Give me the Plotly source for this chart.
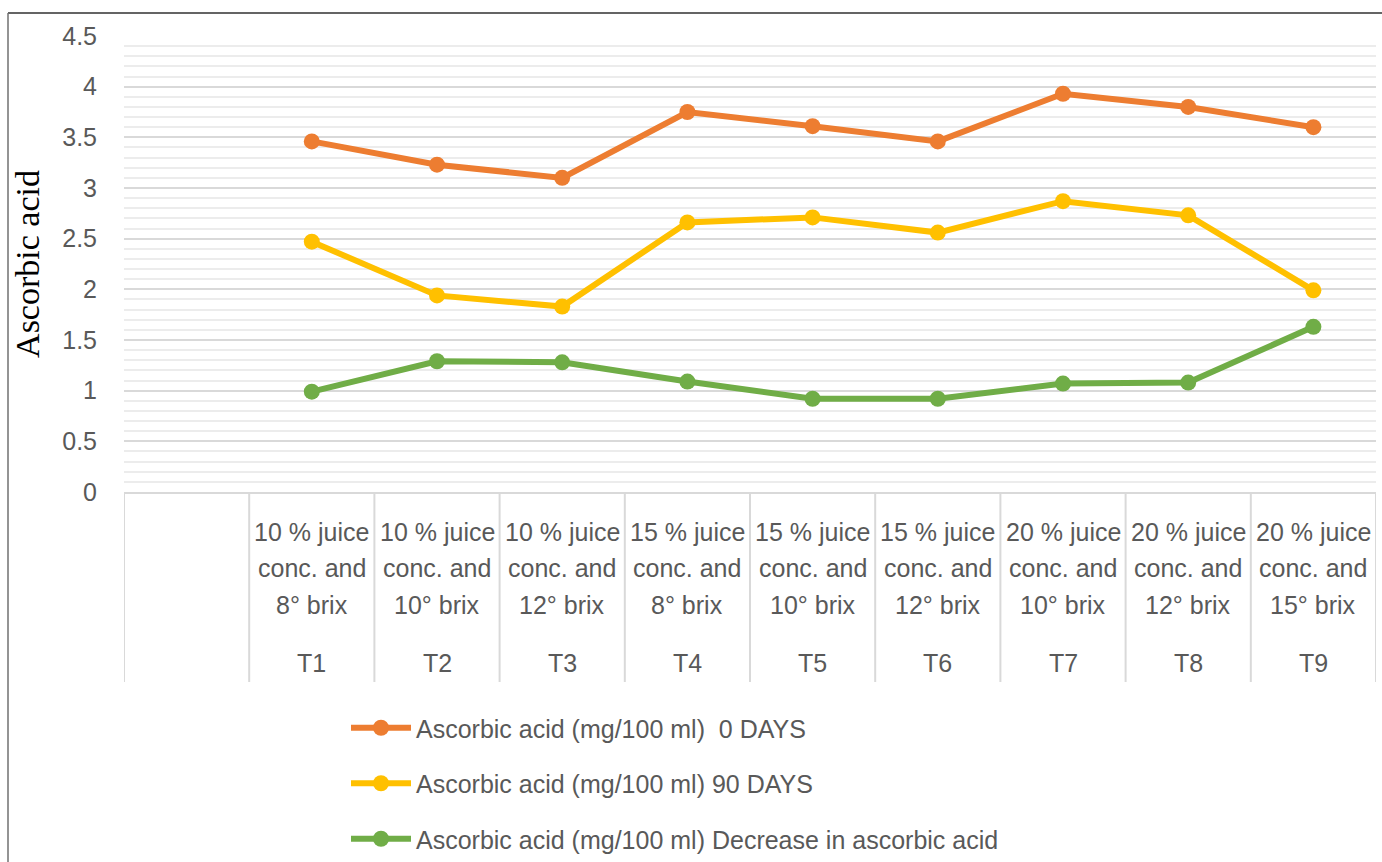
import plotly.graph_objects as go

# ---- data ----
categories = ["T1", "T2", "T3", "T4", "T5", "T6", "T7", "T8", "T9"]
desc_line1 = ["10 % juice", "10 % juice", "10 % juice", "15 % juice", "15 % juice",
              "15 % juice", "20 % juice", "20 % juice", "20 % juice"]
desc_line2 = ["conc. and"] * 9
desc_line3 = ["8° brix", "10° brix", "12° brix", "8° brix", "10° brix",
              "12° brix", "10° brix", "12° brix", "15° brix"]
days0 = [3.46, 3.23, 3.10, 3.75, 3.61, 3.46, 3.93, 3.80, 3.60]
days90 = [2.47, 1.94, 1.83, 2.66, 2.71, 2.56, 2.87, 2.73, 1.99]
decrease = [0.99, 1.29, 1.28, 1.09, 0.92, 0.92, 1.07, 1.08, 1.63]
series_names = ["Ascorbic acid (mg/100 ml) \u00a00 DAYS",
                "Ascorbic acid (mg/100 ml) 90 DAYS",
                "Ascorbic acid (mg/100 ml) Decrease in ascorbic acid"]
y_ticks = [0, 0.5, 1, 1.5, 2, 2.5, 3, 3.5, 4, 4.5]
y_ticklabels = ["0", "0.5", "1", "1.5", "2", "2.5", "3", "3.5", "4", "4.5"]

colors = ["#ED7D31", "#FFC000", "#70AD47"]

W, H = 1382, 862
L, R, T, B = 124, 6, 36, 370
plot_h = H - T - B
plot_w = W - L - R

# first category slot is blank, T1..T9 occupy slots 1..9
xpos = [i + 1 for i in range(len(categories))]

fig = go.Figure()
for name, vals, c in zip(series_names, [days0, days90, decrease], colors):
    fig.add_trace(go.Scatter(
        x=xpos, y=vals, name=name, mode="lines+markers",
        line=dict(color=c, width=6),
        marker=dict(color=c, size=16, symbol="circle"),
        legendgroup=name,
    ))

tick_font = dict(family="Liberation Sans, Arial, sans-serif", size=25, color="#595959")

annotations = []
offsets = [39.7, 76.3, 113.0, 170.7]
for i, x in enumerate(xpos):
    for txt, off in zip([desc_line1[i], desc_line2[i], desc_line3[i], categories[i]], offsets):
        annotations.append(dict(
            x=x, xref="x", y=0, yref="paper", yanchor="middle", xanchor="center",
            yshift=-off, text=txt, showarrow=False, font=tick_font,
        ))

shapes = []
div_h = 190 / plot_h
for k in range(len(categories) + 2):
    shapes.append(dict(type="line", xref="x", yref="paper",
                       x0=k - 0.5, x1=k - 0.5, y0=0, y1=-div_h,
                       line=dict(color="#d9d9d9", width=2)))
# outer frame (top and left edges)
px = lambda p: (p - L) / plot_w
py = lambda p: (H - B - p) / plot_h
shapes.append(dict(type="line", xref="paper", yref="paper",
                   x0=px(8), x1=px(1390), y0=py(13), y1=py(13),
                   line=dict(color="#303030", width=1.5)))
shapes.append(dict(type="line", xref="paper", yref="paper",
                   x0=px(8), x1=px(8), y0=py(13), y1=py(870),
                   line=dict(color="#707070", width=1.5)))

fig.update_layout(
    width=W, height=H,
    margin=dict(l=L, r=R, t=T, b=B, pad=0, autoexpand=False),
    paper_bgcolor="white", plot_bgcolor="white",
    showlegend=True,
    legend=dict(
        x=px(346), y=py(705), xanchor="left", yanchor="top",
        font=dict(family="Liberation Sans, Arial, sans-serif", size=25, color="#595959"),
        traceorder="grouped", tracegroupgap=20, itemwidth=60,
        bgcolor="rgba(0,0,0,0)",
    ),
    xaxis=dict(
        range=[-0.5, 9.5], showgrid=False, zeroline=False,
        showticklabels=False, ticks="",
        showline=True, linecolor="#d9d9d9", linewidth=2,
        fixedrange=True,
    ),
    yaxis=dict(
        range=[0, 4.5], tickmode="array", tickvals=y_ticks, ticktext=y_ticklabels,
        tickfont=tick_font, ticks="", ticklabelstandoff=26,
        showgrid=True, gridcolor="#d9d9d9", gridwidth=2,
        zeroline=False, showline=False,
        minor=dict(tick0=0, dtick=0.1, showgrid=True, gridcolor="#ececec", gridwidth=2),
        title=dict(text="Ascorbic acid", standoff=12,
                   font=dict(family="Liberation Serif, Times New Roman, serif", size=34, color="black")),
        fixedrange=True,
    ),
    annotations=annotations,
    shapes=shapes,
)

fig.write_html("out.html")
